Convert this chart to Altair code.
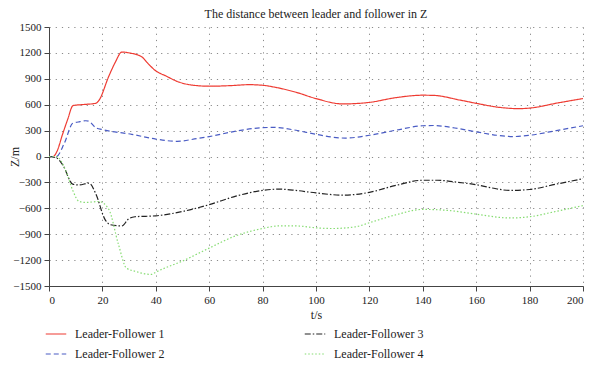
import altair as alt
import pandas as pd

series_names = ["Leader-Follower 1", "Leader-Follower 2", "Leader-Follower 3", "Leader-Follower 4"]

t1 = [0, 1.5, 3, 5, 7, 9, 12, 17.5, 18.7, 22.4, 24.8, 27.3, 30, 34.7, 37, 39.6, 44, 48, 53, 60, 68, 75, 80, 85, 92.5,
      100, 110, 120, 130, 140, 144, 154, 160, 169, 176, 180, 191, 200]
v1 = [0, 0, 60, 250, 430, 590, 600, 616, 650, 930, 1090, 1210, 1200, 1155, 1080, 1001, 930, 870, 830, 814, 821, 832, 825, 800, 744,
      671, 609, 627, 682, 710, 708, 653, 616, 568, 554, 561, 623, 671]

t2 = [0, 2.7, 5.8, 8.9, 11, 13.8, 15, 17.5, 20, 31, 40, 48, 55.6, 60, 70, 80, 84, 92.5,
      100, 111, 120, 130, 140, 144, 152, 160, 168, 174, 180, 190, 200]
v2 = [0, 0, 158, 385, 400, 414, 407, 334, 312, 257, 202, 176, 209, 231, 293, 334, 337, 304,
      257, 213, 246, 305, 356, 359, 330, 286, 245, 231, 246, 300, 356]

t3 = [0, 3, 5.2, 8.9, 11.3, 15, 17.5, 21, 23, 27.3, 29.8, 32.2, 40, 50.7, 60, 70, 80, 86, 92.5,
      100, 110, 120, 129.5, 140, 145.5, 152, 160, 166, 172.5, 180, 190, 200]
v3 = [0, -20, -99, -320, -330, -308, -430, -731, -790, -804, -723, -698, -687, -632, -558, -459, -393, -378, -393,
      -422, -448, -415, -338, -275, -275, -295, -327, -365, -393, -382, -320, -257]

t4 = [0, 2.7, 6.4, 8.9, 11.3, 13.8, 18.7, 22.4, 26, 29, 32.2, 38.4, 40, 50.7, 60, 70, 80, 86, 92.5,
      100, 106, 114.7, 120, 129.5, 140, 148, 160, 172.5, 180, 190, 200]
v4 = [0, 0, -173, -393, -521, -532, -521, -613, -1017, -1293, -1329, -1366, -1340, -1201, -1061, -918, -834, -804, -804,
      -826, -834, -815, -767, -679, -613, -621, -668, -712, -698, -635, -569]

x_ticks = list(range(0, 201, 20))
y_ticks = list(range(-1500, 1501, 300))

rows = []
for name, ts, vs in zip(series_names, [t1, t2, t3, t4], [v1, v2, v3, v4]):
    for t, v in zip(ts, vs):
        rows.append({"t": t, "z": v, "series": name})
df = pd.DataFrame(rows)

colors = ["#ee3b32", "#4a5cc4", "#222222", "#86dc72"]
dashes = [[1, 0], [5, 3], [6, 2, 1.5, 2], [1.5, 2]]

font = "Liberation Serif"

legend_cfg = dict(title=None, orient="none", legendX=-4, legendY=296, columns=2,
                  columnPadding=137, rowPadding=3, symbolType="stroke",
                  symbolSize=420, symbolStrokeWidth=1.2, labelFont=font,
                  labelFontSize=12, labelColor="#222", labelOffset=8)

axis_common = dict(labelFont=font, labelFontSize=11, labelColor="#222",
                   titleFont=font, titleFontSize=12, titleFontWeight="normal", titleColor="#222",
                   domainColor="#444", domainWidth=1, tickColor="#444", tickSize=5,
                   labelPadding=3, grid=True, gridColor="#8a8a8a", gridDash=[1.2, 5], gridWidth=1)

chart = alt.Chart(df).mark_line(interpolate="monotone", strokeWidth=1.2).encode(
    x=alt.X("t:Q", scale=alt.Scale(domain=[0, 200], nice=False),
            axis=alt.Axis(values=x_ticks, format="d", title="t/s", titlePadding=4, **axis_common)),
    y=alt.Y("z:Q", scale=alt.Scale(domain=[-1500, 1500], nice=False),
            axis=alt.Axis(values=y_ticks, format="d", title="Z/m", titleX=-35, titleAngle=-90,
                          titleBaseline="middle", **axis_common)),
    color=alt.Color("series:N",
                    scale=alt.Scale(domain=series_names, range=colors),
                    legend=alt.Legend(**legend_cfg)),
    strokeDash=alt.StrokeDash("series:N",
                              scale=alt.Scale(domain=series_names, range=dashes),
                              legend=alt.Legend(**legend_cfg)),
    detail="series:N",
).properties(
    width=534, height=259,
    title=alt.TitleParams("The distance between leader and follower in Z", font=font, fontSize=12,
                          fontWeight="normal", color="#222", anchor="middle", offset=0),
    autosize=alt.AutoSizeParams(type="none"),
    padding={"left": 41, "top": 19, "right": 9, "bottom": 76},
).configure_view(stroke=None)

chart.save("out.html", embed_options={"renderer": "svg", "actions": False})
